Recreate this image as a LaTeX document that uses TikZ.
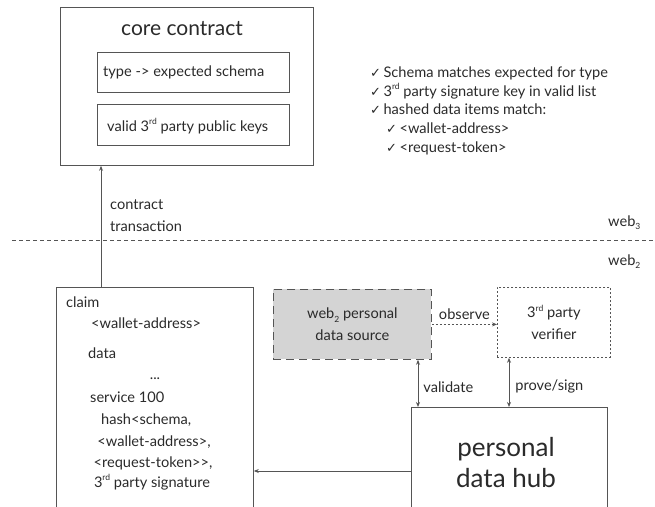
\documentclass[tikz,border=0pt]{standalone}
\usepackage{fontspec}
\setmainfont{Lato}
\newfontfamily\symfont{DejaVu Sans}
\usetikzlibrary{arrows.meta}
\definecolor{linec}{HTML}{555555}
\definecolor{textc}{HTML}{2A2A2A}
\definecolor{srcfill}{HTML}{D4D4D4}
\newcommand\ck{{\symfont\fontsize{13}{15}\selectfont ✓}\,}
\newcommand\gtgt{>\kern0pt>}
\newcommand\sups[1]{\raisebox{0.42em}{\fontsize{8.5}{9}\selectfont #1}}
\newcommand\subs[1]{\raisebox{-0.25em}{\fontsize{8.5}{9}\selectfont #1}}
\begin{document}
\begin{tikzpicture}[x=1pt,y=-1pt,
  box/.style={draw=linec, line width=0.8pt, inner sep=0pt},
  txt/.style={text=textc, font=\fontsize{14.6}{21.5}\selectfont, inner sep=0pt},
  title/.style={text=textc, font=\fontsize{21}{28}\selectfont, inner sep=0pt},
  big/.style={text=textc, font=\fontsize{26}{31}\selectfont, inner sep=0pt, align=center},
  arr/.style={draw=linec, line width=0.8pt, -{Stealth[length=5pt,width=4pt]}},
  darr/.style={draw=linec, line width=0.8pt, {Stealth[length=5pt,width=4pt]}-{Stealth[length=5pt,width=4pt]}}]
\useasboundingbox (0,0) rectangle (655,506);
\clip (0,0) rectangle (655,506);

% core contract with its two tables
\node[box, minimum width=253pt, minimum height=158pt, anchor=north west] (core) at (60,7) {};
\node[title, anchor=base] (coretitle) at (182,35) {core contract};
\node[box, minimum width=192pt, minimum height=40pt, anchor=north west] (schema) at (97,52) {};
\node[txt, anchor=base west] (schematxt) at (103,76) {type -> expected schema};
\node[box, minimum width=192pt, minimum height=41pt, anchor=north west] (keys) at (97,104) {};
\node[txt, anchor=base west] (keystxt) at (107,131) {valid 3\sups{rd} party public keys};

% checks done by the contract
\node[txt, anchor=base west] (chk1) at (370,77) {\ck Schema matches expected for type};
\node[txt, anchor=base west] (chk2) at (370,96) {\ck 3\sups{rd} party signature key in valid list};
\node[txt, anchor=base west] (chk3) at (370,114) {\ck hashed data items match:};
\node[txt, anchor=base west] (chk4) at (386,133) {\ck <wallet-address>};
\node[txt, anchor=base west] (chk5) at (386,152) {\ck <request-token>};

% web3 / web2 boundary
\draw[linec, line width=0.8pt, dash pattern=on 4pt off 3pt] (12,240) -- (655,240);
\node[txt, anchor=base west] (web3) at (608,226) {web\subs{3}};
\node[txt, anchor=base west] (web2) at (608,265) {web\subs{2}};

% claim
\node[box, minimum width=197pt, minimum height=240pt, anchor=north west] (claim) at (56,287) {};
\node[txt, anchor=base west] (c1) at (66,307) {claim};
\node[txt, anchor=base west] (c2) at (91,328) {<wallet-address>};
\node[txt, anchor=base west] (c3) at (88,358) {data};
\node[txt, anchor=base] (c4) at (155,379) {...};
\node[txt, anchor=base west] (c5) at (90,402) {service 100};
\node[txt, anchor=base west] (c6) at (101,424) {hash<schema,};
\node[txt, anchor=base] (c7) at (154,446) {<wallet-address>,};
\node[txt, anchor=base] (c8) at (153,467) {<request-token\gtgt,};
\node[txt, anchor=base] (c9) at (152,487) {3\sups{rd} party signature};

\draw[arr] ([xshift=45pt]claim.north west) -- ([xshift=45pt]claim.north west |- core.south);
\node[txt, anchor=base west, align=left] (ctx) at (110,231) {contract\\transaction};

% web2 side
\node[box, fill=srcfill, dash pattern=on 8pt off 5pt, minimum width=158pt, minimum height=70pt,
  anchor=north west, txt, align=center] (src) at (273,289) {web\subs{2} personal\\data source};
\node[box, dash pattern=on 2pt off 2pt, minimum width=113pt, minimum height=70pt,
  anchor=north west, txt, align=center] (verifier) at (497,287) {3\sups{rd} party\\verifier};
\node[box, minimum width=196pt, minimum height=120pt, anchor=north west] (hub) at (411,407) {};
\node[big, anchor=center] (hubtxt) at (506,463) {personal\\data hub};

\draw[arr, dash pattern=on 2pt off 2pt] (src.east) -- (src.east -| verifier.west)
  node[txt, midway, above, yshift=4pt] (obs) {observe};
\draw[darr] ([xshift=7pt]hub.north west |- src.south) -- ([xshift=7pt]hub.north west)
  node[txt, pos=0.5, anchor=west, xshift=5pt, yshift=-4pt] (val) {validate};
\draw[darr] ([xshift=98pt]hub.north west |- verifier.south) -- ([xshift=98pt]hub.north west)
  node[txt, pos=0.5, anchor=west, xshift=6pt, yshift=-4pt] (prv) {prove/sign};
\draw[arr] ([yshift=-64pt]hub.north west) -- ([yshift=-64pt]hub.north west -| claim.east);
\end{tikzpicture}
\end{document}
